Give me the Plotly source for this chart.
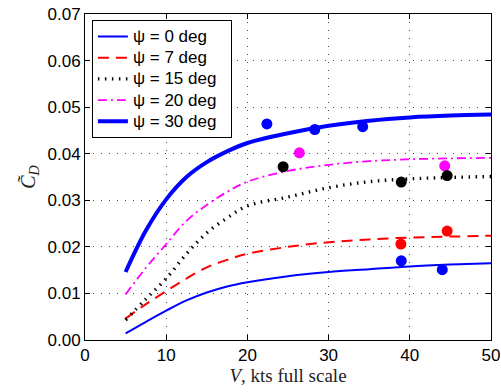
import plotly.graph_objects as go

# Curve abscissa (kts full scale)
V_curve = [5, 7.5, 10, 12.5, 15, 17.5, 20, 25, 30, 35, 40, 45, 50]

# Curve values
cd_psi0 = [0.0014, 0.0039, 0.0063, 0.0085, 0.0102, 0.0115, 0.0124, 0.0137, 0.0146, 0.0152, 0.0158, 0.0162, 0.0165]
cd_psi7 = [0.0046, 0.0077, 0.0105, 0.0132, 0.0156, 0.0172, 0.0185, 0.0200, 0.0210, 0.0216, 0.0220, 0.0222, 0.0224]
cd_psi15 = [0.0043, 0.0088, 0.0132, 0.0185, 0.0230, 0.0262, 0.0288, 0.0307, 0.0327, 0.0340, 0.0346, 0.0349, 0.0351]
cd_psi20 = [0.0098, 0.0155, 0.0206, 0.0256, 0.0290, 0.0318, 0.0340, 0.0363, 0.0376, 0.0384, 0.0388, 0.0390, 0.0391]
cd_psi30 = [0.0146, 0.0235, 0.0302, 0.0350, 0.0382, 0.0405, 0.0423, 0.0444, 0.0460, 0.0471, 0.0478, 0.0482, 0.0484]

# Measured points
pts_blue_V = [22.4, 28.3, 34.2, 38.95, 44.0]
pts_blue_C = [0.0464, 0.0452, 0.0458, 0.0170, 0.0151]
pts_red_V = [38.9, 44.6]
pts_red_C = [0.0206, 0.0234]
pts_mag_V = [26.4, 44.3]
pts_mag_C = [0.0402, 0.0374]
pts_blk_V = [24.4, 38.95, 44.6]
pts_blk_C = [0.0372, 0.0339, 0.0353]

legend_names = ["ψ = 0 deg", "ψ = 7 deg", "ψ = 15 deg", "ψ = 20 deg", "ψ = 30 deg"]
x_ticks = [0, 10, 20, 30, 40, 50]
y_ticks = [0.00, 0.01, 0.02, 0.03, 0.04, 0.05, 0.06, 0.07]

def lname(s):
    return "<span style='font-size:17px'>" + s + "\u00a0\u00a0</span>"

fig = go.Figure()
styles = [
    (cd_psi0, dict(color="#0000FF", width=2, dash="solid")),
    (cd_psi7, dict(color="#FF0000", width=2, dash="11px,7px")),
    (cd_psi15, dict(color="#000000", width=3.4, dash="1.5px,5.5px")),
    (cd_psi20, dict(color="#FF00FF", width=1.8, dash="9px,4px,2px,4px")),
    (cd_psi30, dict(color="#0000FF", width=4, dash="solid")),
]
for (vals, ln), nm in zip(styles, legend_names):
    ln = dict(ln)
    ln["shape"] = "spline"
    ln["smoothing"] = 1.0
    fig.add_trace(go.Scatter(x=V_curve, y=vals, mode="lines", line=ln, name=lname(nm)))

for xs, ys, c in [(pts_blue_V, pts_blue_C, "#0000FF"), (pts_red_V, pts_red_C, "#FF0000"),
                  (pts_mag_V, pts_mag_C, "#FF00FF"), (pts_blk_V, pts_blk_C, "#000000")]:
    fig.add_trace(go.Scatter(x=xs, y=ys, mode="markers", showlegend=False,
                             marker=dict(color=c, size=11, line=dict(width=0))))

axis_common = dict(
    showline=True, linecolor="black", linewidth=1, mirror="allticks",
    ticks="inside", ticklen=5, tickcolor="black", tickwidth=1,
    showgrid=True, gridcolor="#444444", gridwidth=1, griddash="1px,7px",
    zeroline=False, tickfont=dict(family="Liberation Sans, Arial", size=17, color="black"),
)

fig.update_layout(
    width=501, height=392,
    margin=dict(l=85, r=10, t=14, b=52, autoexpand=False),
    paper_bgcolor="white", plot_bgcolor="white",
    xaxis=dict(range=[0, 50], tickvals=x_ticks, ticktext=[str(v) for v in x_ticks],
               title=dict(text="<i>V</i>, kts full scale", standoff=2,
                          font=dict(family="Liberation Serif, Times New Roman", size=19, color="#222")),
               **axis_common),
    yaxis=dict(range=[0, 0.07], tickvals=y_ticks, ticktext=["%.2f" % v for v in y_ticks],
               title=dict(text="<i>C\u0303</i><sub><i>D</i></sub>", standoff=6,
                          font=dict(family="Liberation Serif, Times New Roman", size=20, color="#222")),
               **axis_common),
    legend=dict(x=0.017, y=0.982, xanchor="left", yanchor="top",
                bgcolor="white", bordercolor="black", borderwidth=1,
                font=dict(family="Liberation Sans, Arial", size=14, color="black"),
                tracegroupgap=0),
    showlegend=True,
)

fig.write_html("out.html", config={"displayModeBar": False},
               post_script="document.body.style.margin='0';document.body.style.padding='0';")
